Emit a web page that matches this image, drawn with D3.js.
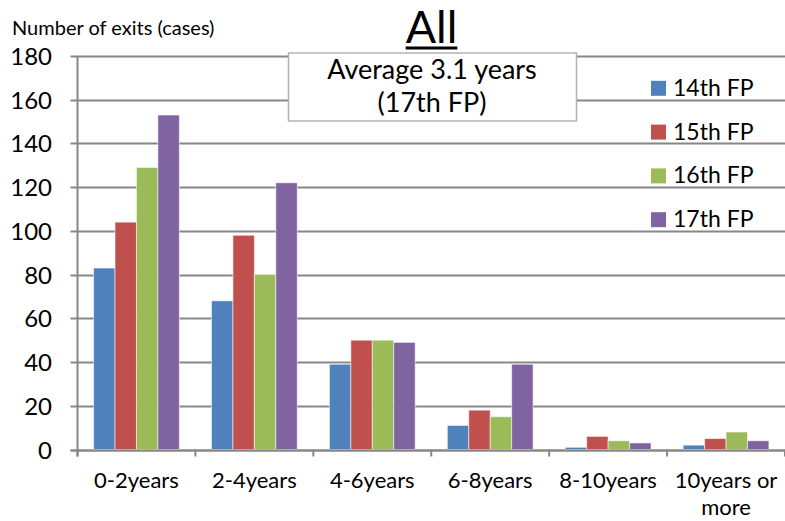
<!DOCTYPE html>
<html>
<head>
<meta charset="utf-8">
<script src="https://cdn.jsdelivr.net/npm/d3@7"></script>
<style>
  html, body { margin: 0; padding: 0; background: #fff; }
  svg { display: block; font-family: Lato, "Open Sans", sans-serif; }
</style>
</head>
<body>
<svg id="chart" width="785" height="521"></svg>
<script>
// Exit counts by holding period, per fund period
const categories = ["0-2years", "2-4years", "4-6years", "6-8years", "8-10years", "10years or\nmore"];
const seriesNames = ["14th FP", "15th FP", "16th FP", "17th FP"];
const fp14 = [83, 68, 39, 11, 1, 2];
const fp15 = [104, 98, 50, 18, 6, 5];
const fp16 = [129, 80, 50, 15, 4, 8];
const fp17 = [153, 122, 49, 39, 3, 4];
const yTicks = [0, 20, 40, 60, 80, 100, 120, 140, 160, 180];
const colors = ["#4F81BD", "#C0504D", "#9BBB59", "#8064A2"];

const seriesValues = [fp14, fp15, fp16, fp17];
const rows = categories.map((c, i) => ({
  cat: c,
  values: seriesNames.map((s, j) => ({ key: s, value: seriesValues[j][i] }))
}));

const svg = d3.select("#chart");
const margin = { left: 77.5, right: 0, top: 56, bottom: 71.5 };
const W = 785, H = 521;

const x = d3.scaleBand().domain(categories).range([margin.left, W - margin.right]).paddingInner(0).paddingOuter(0);
// 150% gap width: group of four bars takes 4 / 5.5 of each band
const groupW = x.bandwidth() * 4 / 5.5;
const xs = d3.scaleBand().domain(seriesNames).range([0, groupW]).padding(0);
const y = d3.scaleLinear().domain([0, 180]).range([H - margin.bottom, margin.top]);

const grey = "#878787";

// horizontal gridlines
svg.append("g")
  .selectAll("line")
  .data(yTicks)
  .join("line")
  .attr("x1", margin.left - 7)
  .attr("x2", W)
  .attr("y1", d => Math.round(y(d)) + 0.5)
  .attr("y2", d => Math.round(y(d)) + 0.5)
  .attr("stroke", grey)
  .attr("stroke-width", 2);

// y axis line
svg.append("line")
  .attr("x1", margin.left).attr("x2", margin.left)
  .attr("y1", y(180)).attr("y2", y(0) + 7)
  .attr("stroke", grey).attr("stroke-width", 2);

// y tick labels
svg.append("g")
  .selectAll("text")
  .data(yTicks)
  .join("text")
  .attr("x", 52)
  .attr("y", d => y(d) + 9)
  .attr("text-anchor", "end")
  .attr("font-size", 24)
  .attr("fill", "#000")
  .text(d => d);

// category boundary ticks below the baseline
const bounds = categories.map(c => x(c)).concat([x(categories[categories.length - 1]) + x.bandwidth()]);
svg.append("g")
  .selectAll("line")
  .data(bounds)
  .join("line")
  .attr("x1", d => d).attr("x2", d => d)
  .attr("y1", y(0)).attr("y2", y(0) + 7)
  .attr("stroke", grey).attr("stroke-width", 2);

// bars
const groups = svg.append("g")
  .selectAll("g")
  .data(rows)
  .join("g")
  .attr("transform", d => `translate(${x(d.cat) + (x.bandwidth() - groupW) / 2},0)`);

groups.selectAll("rect")
  .data(d => d.values)
  .join("rect")
  .attr("x", d => xs(d.key))
  .attr("y", d => y(d.value))
  .attr("width", xs.bandwidth())
  .attr("height", d => y(0) - y(d.value))
  .attr("fill", (d, i) => colors[i])
  .attr("stroke", "rgba(255,255,255,0.55)")
  .attr("stroke-width", 1);

// baseline on top of bars
svg.append("line")
  .attr("x1", margin.left - 7).attr("x2", W)
  .attr("y1", Math.round(y(0)) + 0.5).attr("y2", Math.round(y(0)) + 0.5)
  .attr("stroke", grey).attr("stroke-width", 2);

// category labels
svg.append("g")
  .selectAll("text")
  .data(categories)
  .join("text")
  .attr("x", d => x(d) + x.bandwidth() / 2)
  .attr("y", 488)
  .attr("text-anchor", "middle")
  .attr("font-size", 22)
  .attr("fill", "#000")
  .each(function (d) {
    const lines = d.split("\n");
    d3.select(this).selectAll("tspan")
      .data(lines)
      .join("tspan")
      .attr("x", x(d) + x.bandwidth() / 2)
      .attr("dy", (l, i) => i === 0 ? 0 : 27)
      .text(l => l);
  });

// y axis title
svg.append("text")
  .attr("x", 12).attr("y", 35)
  .attr("font-size", 20)
  .attr("fill", "#000")
  .text("Number of exits (cases)");

// chart title
const title = svg.append("text")
  .attr("x", 431.5).attr("y", 43)
  .attr("text-anchor", "middle")
  .attr("font-size", 45)
  .attr("fill", "#000")
  .text("All");
const tb = title.node().getBBox();
svg.append("line")
  .attr("x1", tb.x).attr("x2", tb.x + tb.width)
  .attr("y1", 48).attr("y2", 48)
  .attr("stroke", "#000").attr("stroke-width", 3);

// annotation box
svg.append("rect")
  .attr("x", 288.5).attr("y", 53)
  .attr("width", 288).attr("height", 68)
  .attr("fill", "#fff")
  .attr("stroke", "#b4b4b4").attr("stroke-width", 1.5);
svg.append("text")
  .attr("x", 432).attr("y", 79)
  .attr("text-anchor", "middle").attr("font-size", 27).attr("fill", "#000")
  .text("Average 3.1 years");
svg.append("text")
  .attr("x", 432).attr("y", 112)
  .attr("text-anchor", "middle").attr("font-size", 27).attr("fill", "#000")
  .text("(17th FP)");

// legend
const legend = svg.append("g")
  .selectAll("g")
  .data(seriesNames)
  .join("g")
  .attr("transform", (d, i) => `translate(651, ${88.3 + i * 43.8})`);
legend.append("rect")
  .attr("x", 0).attr("y", -7.5)
  .attr("width", 15).attr("height", 15)
  .attr("fill", (d, i) => colors[i]);
legend.append("text")
  .attr("x", 22).attr("y", 7.5)
  .attr("font-size", 23).attr("fill", "#000")
  .text(d => d);
</script>
</body>
</html>
